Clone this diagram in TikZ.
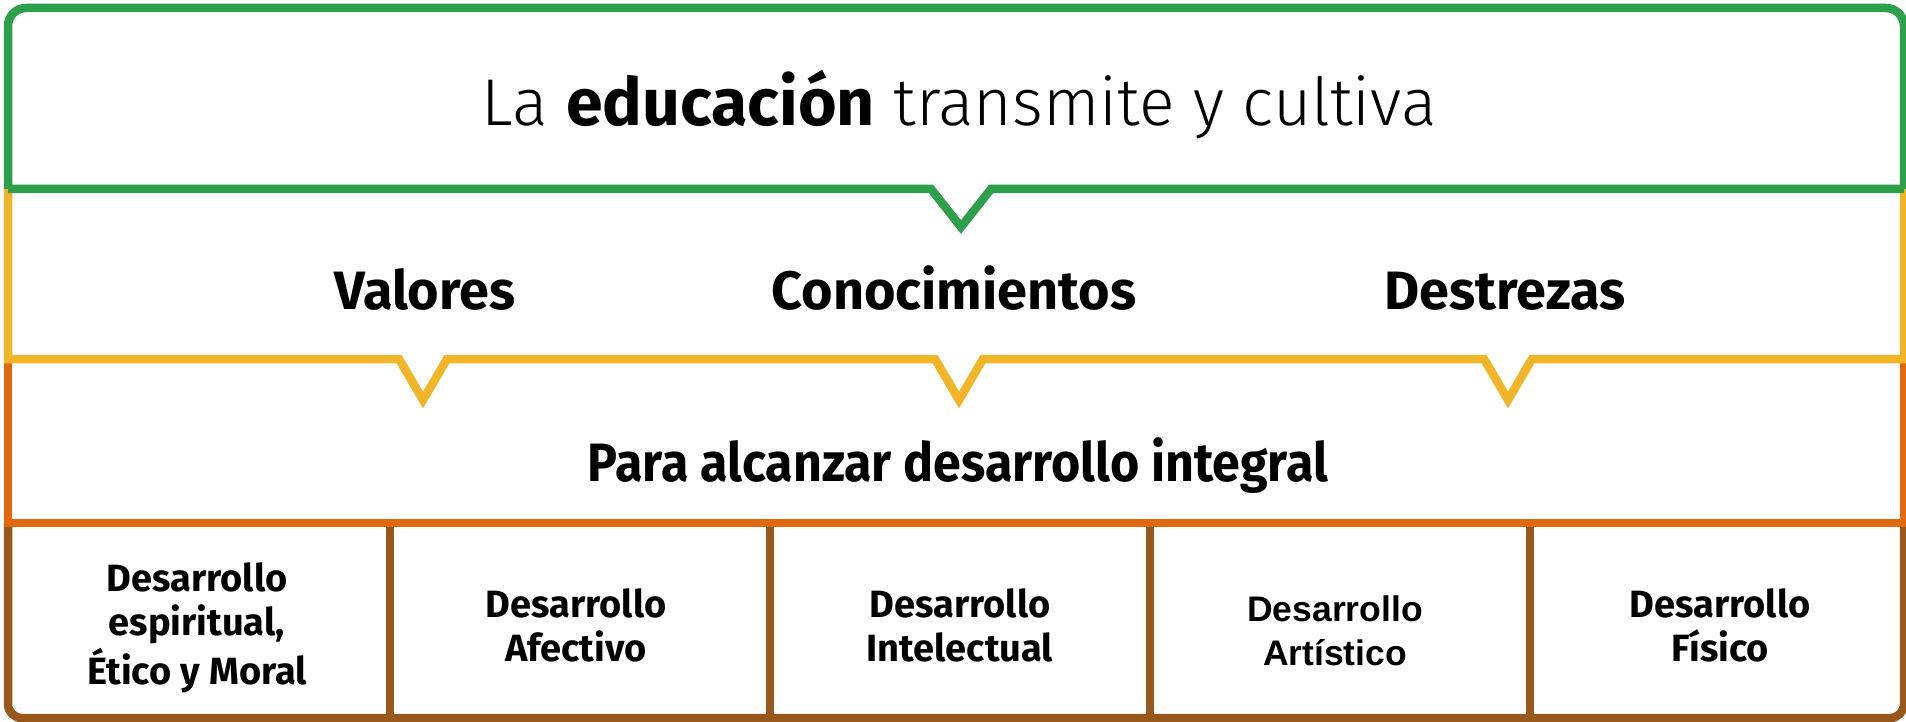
\documentclass[tikz,border=0pt]{standalone}
\usepackage{fontspec}
\setmainfont{Fira Sans}
\newfontfamily\lightfont{Fira Sans Light}[BoldFont={Fira Sans Bold}]
\newfontfamily\arialbold{Liberation Sans Bold}
\definecolor{cgreen}{RGB}{46,160,76}
\definecolor{cyellow}{RGB}{240,182,40}
\definecolor{corange}{RGB}{226,104,16}
\definecolor{cbrown}{RGB}{152,88,28}
\begin{document}
\begin{tikzpicture}[x=1pt,y=-1pt,
  frame/.style={line width=8.5pt},
  titletext/.style={anchor=base,inner sep=0pt,font=\lightfont\fontsize{66.2}{78}\selectfont},
  bandtext/.style={anchor=base,inner sep=0pt,font=\fontsize{54}{64}\selectfont\bfseries},
  celltext/.style={anchor=base,inner sep=0pt,font=\fontsize{38}{44}\selectfont\bfseries},
  arialtext/.style={anchor=base,inner sep=0pt,font=\arialbold\fontsize{35.5}{44}\selectfont}]
\useasboundingbox (0,0) rectangle (1906,722);
\fill[white] (0,0) rectangle (1906,722);
% coordinates of frame
\coordinate (gl) at (8,189);
\coordinate (gr) at (1904,189);
\coordinate (yl) at (8,359);
\coordinate (yr) at (1904,359);
\coordinate (ol) at (8,523);
\coordinate (or) at (1904,523);
% brown cells
\draw[frame,cbrown,rounded corners=14pt] (ol) -- (8,718) -- (1904,718) -- (or);
\foreach \x in {390,770,1150,1530} \draw[frame,cbrown] (\x,523) -- (\x,718);
% orange band
\draw[frame,corange] (yl) -- (ol) -- (or) -- (yr);
% yellow band
\draw[frame,cyellow] (gl) -- (yl) -- (399,359) -- (423,400) -- (447,359)
  -- (935,359) -- (959,400) -- (983,359) -- (1484,359) -- (1508,400) -- (1532,359)
  -- (yr) -- (gr);
% green band
\draw[frame,cgreen,rounded corners=18pt] (gl) -- (8,8) -- (1904,8) -- (gr);
\draw[frame,cgreen] (gl) -- (931,189) -- (961,227) -- (991,189) -- (gr);
% texts
\node[titletext] (title) at (959,126) {La \textbf{educación} transmite y cultiva};
\node[bandtext] (val) at (425,309) {Valores};
\node[bandtext] (con) at (954,309) {Conocimientos};
\node[bandtext] (des) at (1505,309) {Destrezas};
\node[bandtext] (para) at (958,481) {\scalebox{0.928}[1]{Para alcanzar desarrollo integral}};
\node[celltext] (c1) at (197,591) {\begin{tabular}[t]{@{}c@{}}Desarrollo\\espiritual,\\Ético y Moral\end{tabular}};
\node[celltext] (c2) at (576,617) {\begin{tabular}[t]{@{}c@{}}Desarrollo\\Afectivo\end{tabular}};
\node[celltext] (c3) at (960,617) {\begin{tabular}[t]{@{}c@{}}Desarrollo\\Intelectual\end{tabular}};
\node[arialtext] (c4) at (1335,621) {\begin{tabular}[t]{@{}c@{}}Desarrollo\\Artístico\end{tabular}};
\node[celltext] (c5) at (1720,617) {\begin{tabular}[t]{@{}c@{}}Desarrollo\\Físico\end{tabular}};
\end{tikzpicture}
\end{document}
